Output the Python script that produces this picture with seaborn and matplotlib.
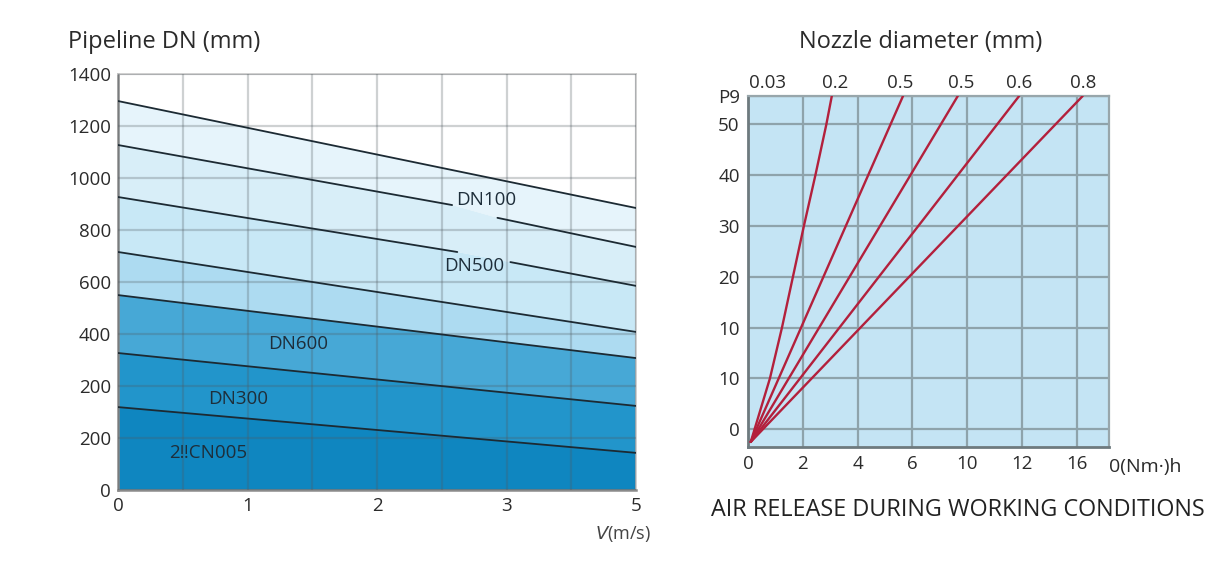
import numpy as np
import pandas as pd
import matplotlib
matplotlib.use("Agg")
import matplotlib.pyplot as plt
import seaborn as sns

sns.set_theme(style="white")
plt.rcParams['font.family'] = ['Open Sans', 'DejaVu Sans']

# ---------------- Left chart data ----------------
left_xticks = [0, 1, 2, 3, 4]
left_xlabels = ["0", "1", "2", "3", "5"]
left_yticks = [0, 175, 350, 525, 700, 875, 1050, 1225, 1400]
left_ylabels = ["0", "200", "200", "400", "600", "800", "1000", "1200", "1400"]

# each line: list of segments (x pair, y pair); gaps leave room for labels
seg_x = [
    [[0, 4]],
    [[0, 2.58], [2.93, 4]],
    [[0, 2.62], [3.03, 4]],
    [[0, 4]],
    [[0, 4]],
    [[0, 4]],
    [[0, 4]],
]
seg_y = [
    [[1309, 949]],
    [[1161, 959], [916, 818]],
    [[986, 801], [767, 687]],
    [[801, 532]],
    [[656, 444]],
    [[461, 283]],
    [[279, 125]],
]
band_colors = ["#ffffff", "#e6f4fb", "#d8eef8", "#c8e8f6", "#addbf1",
               "#47a8d6", "#2295cb", "#0f86c0"]
dn_labels = ["DN100", "DN500", "DN600", "DN300", "2\u203cCN005"]
dn_x = [2.84, 2.75, 1.39, 0.93, 0.70]
dn_y = [975, 755, 490, 305, 125]

# ---------------- Right chart data ----------------
right_xticks = [0, 1, 2, 3, 4, 5, 6]
right_xlabels = ["0", "2", "4", "6", "10", "12", "16"]
right_yticks = [0, 1, 2, 3, 4, 5, 6, 6.56]
right_ylabels = ["0", "10", "10", "20", "30", "40", "50", "P9"]
nozzle_pos = [0.36, 1.59, 2.77, 3.89, 4.95, 6.11]
nozzle_labels = ["0.03", "0.2", "0.5", "0.5", "0.6", "0.8"]
curve_x = [
    [0.05, 0.40, 0.62, 0.82, 1.02, 1.23, 1.43, 1.53],
    [0.05, 2.83],
    [0.05, 3.83],
    [0.05, 4.95],
    [0.05, 6.11],
]
curve_y = [
    [-0.25, 1, 2, 3, 4, 5, 6, 6.56],
    [-0.25, 6.56],
    [-0.25, 6.56],
    [-0.25, 6.56],
    [-0.25, 6.56],
]

TXT = "#2b2b2b"
fig = plt.figure(figsize=(12.24, 5.64), dpi=100)

# ======== Left chart ========
axL = fig.add_axes([118 / 1224, 1 - 490 / 564, 518 / 1224, 416 / 564])
axL.set_xlim(0, 4)
axL.set_ylim(0, 1400)

# band fills between consecutive lines, following each line's own points
bounds = [([0, 4], [1400, 1400])]
for xs_list, ys_list in zip(seg_x, seg_y):
    bx = [v for pair in xs_list for v in pair]
    by = [v for pair in ys_list for v in pair]
    bounds.append((bx, by))
bounds.append(([0, 4], [0, 0]))
for (ux, uy), (lx, ly), c in zip(bounds[:-1], bounds[1:], band_colors):
    axL.fill(list(ux) + list(lx)[::-1], list(uy) + list(ly)[::-1],
             color=c, lw=0, zorder=0)

for xs_list, ys_list in zip(seg_x, seg_y):
    for xs, ys in zip(xs_list, ys_list):
        sns.lineplot(x=xs, y=ys, ax=axL, color="#1c2a33", lw=1.3, zorder=3)
for t, x, y in zip(dn_labels, dn_x, dn_y):
    axL.text(x, y, t, fontsize=13.5, color="#1e2e3a", ha="center", va="center", zorder=4)

axL.set_xticks(np.arange(0, 4.01, 0.5), minor=True)
axL.set_xticks(left_xticks)
axL.set_xticklabels(left_xlabels, fontsize=13.5, color=TXT)
axL.set_yticks(left_yticks)
axL.set_yticklabels(left_ylabels, fontsize=13.5, color=TXT)
axL.grid(True, which="both", axis="x", color="#505a60", alpha=0.28, lw=1.6, zorder=1)
axL.grid(True, which="major", axis="y", color="#505a60", alpha=0.28, lw=1.6, zorder=1)
axL.set_axisbelow(False)
axL.tick_params(which="both", length=0, pad=5)
for s in ["left", "bottom"]:
    axL.spines[s].set_color("#8a8a8a")
    axL.spines[s].set_linewidth(1.8)
for s in ["top", "right"]:
    axL.spines[s].set_color("#c8c8c8")
    axL.spines[s].set_linewidth(1.2)
axL.set_xlabel("")
axL.set_ylabel("")
fig.text(68 / 1224, 1 - 42 / 564, "Pipeline DN (mm)", fontsize=17, color=TXT,
         ha="left", va="center")
fig.text(651 / 1224, 1 - 534 / 564, "$\\it{V}$(m/s)", fontsize=13, color="#444444",
         ha="right", va="center")

# ======== Right chart ========
axR = fig.add_axes([748 / 1224, 1 - 447 / 564, 361 / 1224, 351 / 564])
axR.set_facecolor("#c4e4f4")
for xs, ys in zip(curve_x, curve_y):
    sns.lineplot(x=xs, y=ys, ax=axR, color="#b3203c", lw=1.7, zorder=3,
                 sort=False, estimator=None)
axR.set_xlim(0, 6.59)
axR.set_ylim(-0.35, 6.56)
axR.set_xticks(right_xticks)
axR.set_xticklabels(right_xlabels, fontsize=13.5, color=TXT)
axR.set_yticks(right_yticks)
axR.set_yticklabels(right_ylabels, fontsize=13.5, color=TXT)
axR.grid(True, color="#8ea3ab", lw=1.6, zorder=1)
axR.tick_params(length=0, pad=6)
for s in ["left", "bottom"]:
    axR.spines[s].set_color("#6e7a7e")
    axR.spines[s].set_linewidth(2)
for s in ["top", "right"]:
    axR.spines[s].set_color("#98a6ab")
    axR.spines[s].set_linewidth(1.6)
axR.set_xlabel("")
axR.set_ylabel("")
axR.text(1.0, -0.03, "0(Nm\u00b7)h", transform=axR.transAxes, fontsize=14,
         color=TXT, ha="left", va="top")
axT = axR.twiny()
axT.set_xlim(axR.get_xlim())
axT.set_xticks(nozzle_pos)
axT.set_xticklabels(nozzle_labels, fontsize=13.5, color=TXT)
axT.tick_params(length=0, pad=3)
for s in axT.spines.values():
    s.set_visible(False)
fig.text(921 / 1224, 1 - 42 / 564, "Nozzle diameter (mm)", fontsize=17, color=TXT,
         ha="center", va="center")
fig.text(958 / 1224, 1 - 510 / 564, "AIR RELEASE DURING WORKING CONDITIONS",
         fontsize=16.8, color="#222222", ha="center", va="center")

fig.savefig("out.png", dpi=100)
